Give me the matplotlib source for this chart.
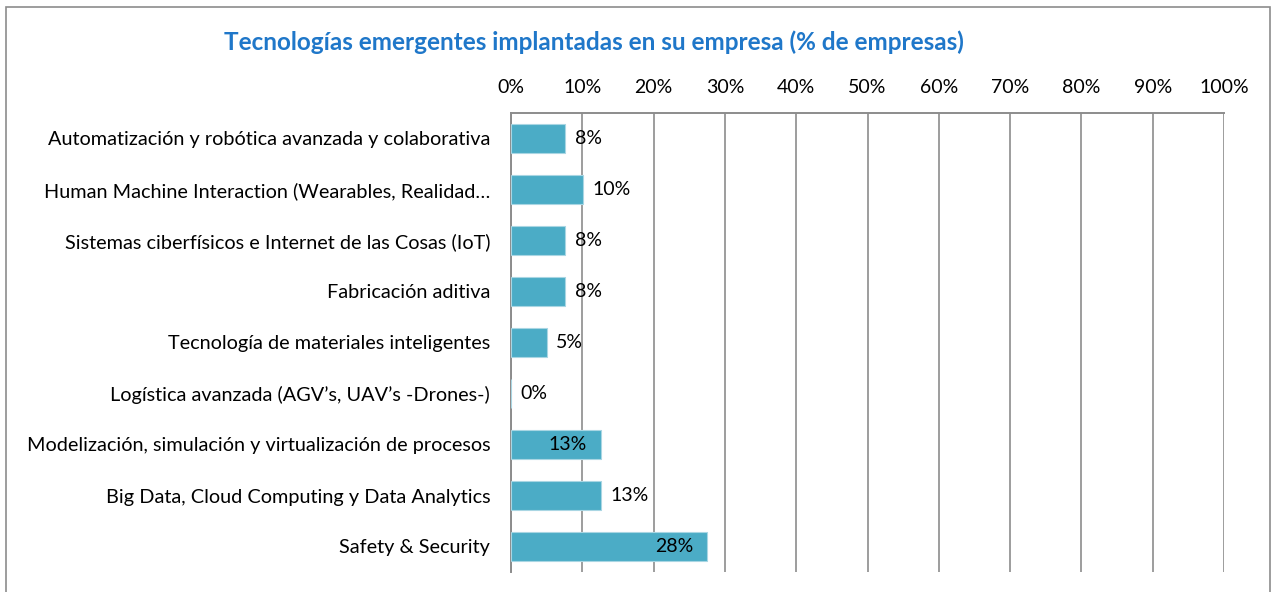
import matplotlib.pyplot as plt
from matplotlib.patches import Rectangle

plt.rcParams['font.family'] = ['Lato', 'DejaVu Sans']

categorias = [
    "Automatización y robótica avanzada y colaborativa",
    "Human Machine Interaction (Wearables, Realidad…",
    "Sistemas ciberfísicos e Internet de las Cosas (IoT)",
    "Fabricación aditiva",
    "Tecnología de materiales inteligentes",
    "Logística avanzada (AGV’s, UAV’s -Drones-)",
    "Modelización, simulación y virtualización de procesos",
    "Big Data, Cloud Computing y Data Analytics",
    "Safety & Security",
]
porcentajes = [7.6, 10.1, 7.6, 7.6, 5.0, 0.0, 12.6, 12.6, 27.5]
# etiqueta dentro de la barra (True) o a continuación (False)
dentro = [False, False, False, False, False, False, True, False, True]
ticks = list(range(0, 101, 10))

fig = plt.figure(figsize=(12.77, 5.92), dpi=100, facecolor='white')
ax = fig.add_axes([511 / 1277, 20 / 592, 713 / 1277, 459 / 592])

y = list(range(len(categorias)))
ax.barh(y, porcentajes, height=0.57, color='#4BACC6', edgecolor='#A9D6E3',
        linewidth=0.8, zorder=3)

for yi, v, inside in zip(y, porcentajes, dentro):
    txt = f"{v:.0f}%"
    if inside:
        ax.annotate(txt, (v, yi), xytext=(-10, 0), textcoords='offset points',
                    ha='right', va='center', fontsize=14, color='black', zorder=4)
    else:
        ax.annotate(txt, (v, yi), xytext=(7, 0), textcoords='offset points',
                    ha='left', va='center', fontsize=14, color='black', zorder=4)

ax.set_xlim(0, 100)
ax.set_ylim(len(categorias) - 0.5, -0.5)
ax.set_xticks(ticks)
ax.set_xticklabels([f"{t}%" for t in ticks])
ax.xaxis.tick_top()
ax.set_yticks(y)
ax.set_yticklabels(categorias)
ax.tick_params(axis='x', length=0, pad=12, labelsize=14)
ax.tick_params(axis='y', length=0, pad=15, labelsize=14.3)

ax.grid(axis='x', color='#8C8C8C', linewidth=1.2, zorder=0)
ax.set_axisbelow(True)
for side in ['right', 'bottom']:
    ax.spines[side].set_visible(False)
for side in ['left', 'top']:
    ax.spines[side].set_color('#8C8C8C')
    ax.spines[side].set_linewidth(1.4)

fig.text(594 / 1277, 1 - 42 / 592,
         "Tecnologías emergentes implantadas en su empresa (% de empresas)",
         ha='center', va='center', fontsize=17.5, fontweight='bold', color='#1F77C9')

# marco exterior del gráfico
fig.patches.append(Rectangle((6 / 1277, -0.1), 1264 / 1277, 1.1 - 7 / 592,
                             transform=fig.transFigure, fill=False,
                             edgecolor='#8C8C8C', linewidth=1.2))

fig.savefig('out.png', dpi=100, facecolor='white')
